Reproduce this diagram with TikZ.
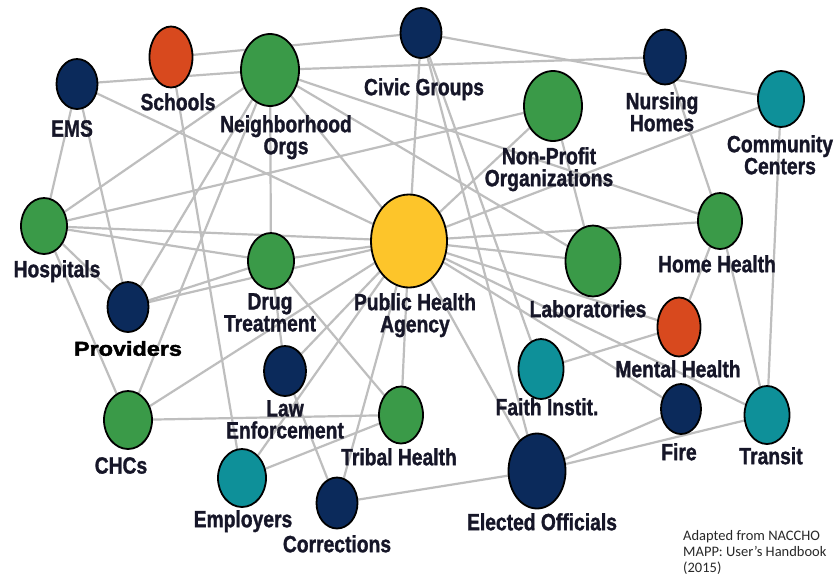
\documentclass[tikz,border=0pt]{standalone}
\usepackage{fontspec}
\usetikzlibrary{shapes.geometric}
\newfontfamily\lblfont{Liberation Sans}[FakeStretch=0.82, FakeBold=1.2]
\newfontfamily\provfont{Liberation Sans}[FakeStretch=1.17, FakeBold=2.2]
\newfontfamily\capfont{Carlito}
\definecolor{navy}{RGB}{11,42,91}
\definecolor{grn}{RGB}{58,154,72}
\definecolor{tealc}{RGB}{14,144,153}
\definecolor{orng}{RGB}{216,73,30}
\definecolor{yell}{RGB}{253,197,42}
\definecolor{edgegray}{RGB}{190,190,190}
\definecolor{lblcol}{RGB}{22,22,40}
\definecolor{capcol}{RGB}{40,40,40}
\pgfdeclarelayer{bg}
\pgfsetlayers{bg,main}
\tikzset{
  blob/.style={ellipse, draw=black, line width=1.8pt, inner sep=0pt},
  nv/.style={blob, fill=navy},
  gr/.style={blob, fill=grn},
  tl/.style={blob, fill=tealc},
  og/.style={blob, fill=orng},
  ye/.style={blob, fill=yell},
  lbl/.style={anchor=north, inner sep=0pt, align=center, text=lblcol,
    font=\lblfont\bfseries\fontsize{23.5}{22}\selectfont},
  provlbl/.style={anchor=north, inner sep=0pt, text=black,
    font=\provfont\bfseries\fontsize{20}{22}\selectfont},
  caption/.style={anchor=north west, inner sep=0pt, align=left, text=capcol,
    font=\capfont\fontsize{14.5}{16}\selectfont},
  edge/.style={draw=edgegray, line width=2.2pt},
}
\begin{document}
\begin{tikzpicture}[x=1pt,y=-1pt]
\useasboundingbox (0,0) rectangle (837,579);
\begin{pgfonlayer}{bg}
\fill[white] (0,0) rectangle (837,579);
\end{pgfonlayer}
% nodes
\node[nv, minimum width=41pt, minimum height=50pt] (ems) at (77,84) {};
\node[og, minimum width=43pt, minimum height=61pt] (schools) at (171,57) {};
\node[gr, minimum width=58pt, minimum height=72pt] (nbhd) at (270,70) {};
\node[nv, minimum width=41pt, minimum height=50pt] (civic) at (421,33) {};
\node[gr, minimum width=58pt, minimum height=70pt] (nonprofit) at (553,106) {};
\node[nv, minimum width=42pt, minimum height=55pt] (nursing) at (665,57) {};
\node[tl, minimum width=46pt, minimum height=56pt] (cc) at (781,99) {};
\node[gr, minimum width=46pt, minimum height=56pt] (hosp) at (44,226) {};
\node[gr, minimum width=46pt, minimum height=56pt] (dt) at (271,261) {};
\node[ye, minimum width=76pt, minimum height=93pt] (pha) at (409,241) {};
\node[gr, minimum width=55pt, minimum height=71pt] (labs) at (593,261) {};
\node[gr, minimum width=44pt, minimum height=56pt] (hh) at (720,221) {};
\node[nv, minimum width=41pt, minimum height=50pt] (prov) at (128,307) {};
\node[og, minimum width=43pt, minimum height=59pt] (mh) at (679,327) {};
\node[tl, minimum width=45pt, minimum height=60pt] (faith) at (541,369) {};
\node[nv, minimum width=42pt, minimum height=50pt] (le) at (285,371) {};
\node[gr, minimum width=48pt, minimum height=58pt] (chcs) at (128,420) {};
\node[gr, minimum width=44pt, minimum height=57pt] (tribal) at (401,415) {};
\node[nv, minimum width=40pt, minimum height=50pt] (fire) at (681,409) {};
\node[tl, minimum width=45pt, minimum height=58pt] (transit) at (767,415) {};
\node[tl, minimum width=48pt, minimum height=58pt] (employers) at (242,478) {};
\node[nv, minimum width=41pt, minimum height=51pt] (corrections) at (337,503) {};
\node[nv, minimum width=57pt, minimum height=75pt] (elected) at (537,471) {};
% edges
\begin{pgfonlayer}{bg}
\foreach \a/\b in {schools/civic, ems/nbhd, nbhd/nursing, civic/cc, civic/pha,
  civic/faith, civic/elected, ems/hosp, ems/prov, ems/pha, hosp/nbhd,
  hosp/nonprofit, hosp/pha, hosp/dt, hosp/prov, hosp/chcs, schools/employers,
  nbhd/dt, nbhd/prov, nbhd/chcs, nbhd/pha, nbhd/labs, nbhd/hh, nonprofit/pha,
  nonprofit/labs, cc/pha, cc/transit, nursing/hh, hh/pha, hh/mh, hh/transit,
  pha/labs, pha/mh, pha/fire, pha/transit, pha/elected, faith/mh, fire/elected,
  transit/elected, corrections/elected, prov/dt, prov/pha, chcs/pha,
  chcs/tribal, dt/pha, dt/le, dt/tribal, le/pha, le/corrections,
  employers/pha, employers/tribal, corrections/pha, tribal/pha}
  \draw[edge] (\a.center) -- (\b.center);
\end{pgfonlayer}
% labels
\node[lbl] (l-ems) at (72,120) {EMS};
\node[lbl] (l-schools) at (178,93) {Schools};
\node[lbl] (l-nbhd) at (286,115) {Neighborhood\\Orgs};
\node[lbl] (l-civic) at (424,78) {Civic Groups};
\node[lbl] (l-nursing) at (662,92) {Nursing\\Homes};
\node[lbl] (l-cc) at (780,135) {Community\\Centers};
\node[lbl] (l-nonprofit) at (549,147) {Non-Profit\\Organizations};
\node[lbl] (l-hosp) at (57,260) {Hospitals};
\node[lbl] (l-pha) at (415,293) {Public Health\\Agency};
\node[lbl] (l-dt) at (270,293) {Drug\\Treatment};
\node[lbl] (l-labs) at (588,300) {Laboratories};
\node[lbl] (l-hh) at (717,255) {Home Health};
\node[provlbl] (l-prov) at (128,341) {Providers};
\node[lbl] (l-mh) at (678,360) {Mental Health};
\node[lbl] (l-le) at (285,400) {Law\\Enforcement};
\node[lbl] (l-faith) at (547,398) {Faith Instit.};
\node[lbl] (l-chcs) at (121,457) {CHCs};
\node[lbl] (l-tribal) at (399,448) {Tribal Health};
\node[lbl] (l-fire) at (679,443) {Fire};
\node[lbl] (l-transit) at (771,447) {Transit};
\node[lbl] (l-employers) at (243,510) {Employers};
\node[lbl] (l-corrections) at (337,535) {Corrections};
\node[lbl] (l-elected) at (542,513) {Elected Officials};
\node[caption] (cap) at (683,530) {Adapted from NACCHO\\MAPP: User’s Handbook\\(2015)};
\end{tikzpicture}
\end{document}
